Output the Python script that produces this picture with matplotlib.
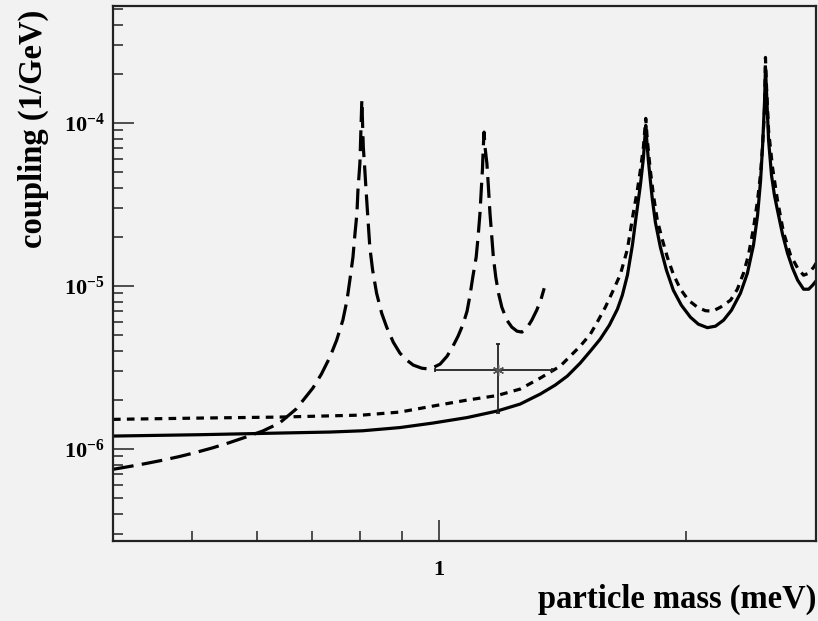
import matplotlib
matplotlib.use("Agg")
import matplotlib.pyplot as plt
from matplotlib.ticker import FixedLocator, NullFormatter

# mass (meV) / coupling (1/GeV)
mass_solid = [0.400, 0.510, 0.639, 0.736, 0.807, 0.896, 0.983, 1.082, 1.177, 1.256,
              1.329, 1.386, 1.434, 1.487, 1.530, 1.573, 1.614, 1.651, 1.674, 1.698,
              1.722, 1.741, 1.761, 1.776, 1.786, 1.788,
              1.793, 1.801, 1.811, 1.822, 1.837, 1.863, 1.895, 1.932, 1.976, 2.027,
              2.073, 2.126, 2.175, 2.225, 2.275, 2.333, 2.379, 2.420, 2.448, 2.469,
              2.483, 2.497, 2.503,
              2.510, 2.525, 2.546, 2.567, 2.589, 2.626, 2.663, 2.701, 2.740, 2.786,
              2.826, 2.858, 2.890]
coup_solid = [1.201e-6, 1.224e-6, 1.253e-6, 1.271e-6, 1.294e-6, 1.354e-6, 1.443e-6, 1.559e-6, 1.709e-6, 1.886e-6,
              2.172e-6, 2.465e-6, 2.799e-6, 3.363e-6, 3.982e-6, 4.718e-6, 5.744e-6, 7.201e-6, 8.772e-6, 1.163e-5,
              1.775e-5, 2.710e-5, 4.137e-5, 6.053e-5, 8.983e-5, 9.64e-5,
              7.80e-5, 5.886e-5, 4.44e-5, 3.348e-5, 2.455e-5, 1.726e-5, 1.248e-5, 9.41e-6, 7.617e-6, 6.43e-6,
              5.826e-6, 5.546e-6, 5.665e-6, 6.166e-6, 7.098e-6, 9.023e-6, 1.196e-5, 1.775e-5, 2.71e-5, 4.44e-5,
              7.27e-5, 1.372e-4, 2.184e-4,
              1.579e-4, 7.80e-5, 4.764e-5, 3.593e-5, 2.908e-5, 2.073e-5, 1.586e-5, 1.284e-5, 1.084e-5, 9.546e-6,
              9.546e-6, 1.01e-5, 1.084e-5]

mass_short = [0.400, 0.510, 0.639, 0.807, 0.896, 0.983, 1.082, 1.177, 1.256, 1.329,
              1.406, 1.487, 1.530, 1.560, 1.596, 1.632, 1.665, 1.698, 1.727, 1.746,
              1.761, 1.776, 1.788,
              1.796, 1.811, 1.827, 1.847, 1.874, 1.900, 1.932, 1.971, 2.016, 2.067,
              2.114, 2.157, 2.206, 2.269, 2.313, 2.353, 2.386, 2.420, 2.448, 2.469,
              2.483, 2.497, 2.503,
              2.510, 2.525, 2.553, 2.589, 2.633, 2.686, 2.740, 2.786, 2.826, 2.866, 2.890]
coup_short = [1.52e-6, 1.548e-6, 1.570e-6, 1.615e-6, 1.685e-6, 1.834e-6, 1.995e-6, 2.127e-6, 2.331e-6, 2.722e-6,
              3.224e-6, 4.272e-6, 5.06e-6, 5.993e-6, 7.408e-6, 9.41e-6, 1.179e-5, 1.678e-5, 2.827e-5, 3.855e-5,
              5.111e-5, 7.07e-5, 1.064e-4,
              7.80e-5, 5.111e-5, 3.593e-5, 2.525e-5, 1.905e-5, 1.498e-5, 1.179e-5, 9.546e-6, 8.174e-6, 7.408e-6,
              7.048e-6, 6.999e-6, 7.408e-6, 8.174e-6, 9.546e-6, 1.196e-5, 1.542e-5, 2.256e-5, 3.348e-5, 4.898e-5,
              7.27e-5, 1.243e-4, 2.515e-4,
              1.694e-4, 8.983e-5, 5.333e-5, 3.348e-5, 2.132e-5, 1.542e-5, 1.284e-5, 1.163e-5, 1.196e-5, 1.302e-5, 1.397e-5]

mass_long = [0.400, 0.4186, 0.4387, 0.4599, 0.4819, 0.5050, 0.5293, 0.5547, 0.5812, 0.6092,
             0.6387, 0.6692, 0.7014, 0.7185, 0.7359, 0.750, 0.7632, 0.7721, 0.7783, 0.7851,
             0.7897, 0.7940, 0.7962, 0.8006, 0.8029, 0.805,
             0.8083, 0.8114, 0.8142, 0.8187, 0.8233, 0.8298, 0.8391, 0.8511, 0.8632, 0.8793,
             0.8960, 0.9131, 0.9302, 0.9526, 0.975, 1.003, 1.023, 1.040, 1.055, 1.070,
             1.082, 1.091, 1.100, 1.110, 1.116, 1.122, 1.126, 1.130, 1.132, 1.135,
             1.138, 1.144, 1.149, 1.154, 1.160, 1.165, 1.173, 1.182, 1.193, 1.210,
             1.227, 1.245, 1.262, 1.280, 1.298, 1.316, 1.331, 1.344]
coup_long = [7.51e-7, 7.81e-7, 8.15e-7, 8.54e-7, 8.99e-7, 9.53e-7, 1.017e-6, 1.094e-6, 1.184e-6, 1.289e-6,
             1.443e-6, 1.758e-6, 2.363e-6, 2.88e-6, 3.66e-6, 4.65e-6, 6.17e-6, 8.17e-6, 1.084e-5, 1.498e-5,
             2.10e-5, 2.79e-5, 3.85e-5, 5.64e-5, 8.99e-5, 1.38e-4,
             7.10e-5, 5.35e-5, 4.02e-5, 2.63e-5, 1.726e-5, 1.248e-5, 9.02e-6, 6.81e-6, 5.59e-6, 4.52e-6,
             3.87e-6, 3.51e-6, 3.27e-6, 3.13e-6, 3.09e-6, 3.315e-6, 3.71e-6, 4.272e-6, 4.92e-6, 5.826e-6,
             6.999e-6, 8.772e-6, 1.147e-5, 1.498e-5, 1.99e-5, 2.79e-5, 3.855e-5, 5.26e-5, 6.79e-5, 8.77e-5,
             7.10e-5, 5.64e-5, 4.02e-5, 2.79e-5, 1.99e-5, 1.50e-5, 1.13e-5, 9.02e-6, 7.41e-6, 6.17e-6,
             5.59e-6, 5.28e-6, 5.21e-6, 5.51e-6, 6.17e-6, 7.10e-6, 8.17e-6, 9.68e-6]

# measured point with errors
pt_mass, pt_mass_lo, pt_mass_hi = 1.181, 0.989, 1.374
pt_coup, pt_coup_lo, pt_coup_hi = 3.05e-6, 1.66e-6, 4.40e-6

y_major = [1e-6, 1e-5, 1e-4]
y_labels = [r"$10^{-6}$", r"$10^{-5}$", r"$10^{-4}$"]
x_major = [1.0]
x_labels = ["1"]

bg = "#f2f2f2"
plt.rcParams["font.family"] = ["Liberation Serif", "DejaVu Serif"]
plt.rcParams["font.weight"] = "bold"
plt.rcParams["mathtext.fontset"] = "custom"
plt.rcParams["mathtext.rm"] = "Liberation Serif:bold"
plt.rcParams["mathtext.bf"] = "Liberation Serif:bold"
plt.rcParams["mathtext.it"] = "Liberation Serif:bold"
plt.rcParams["lines.scale_dashes"] = False

W, H = 818, 621
fig = plt.figure(figsize=(W / 100, H / 100), dpi=100, facecolor=bg)
ax = fig.add_axes([113 / W, (H - 541) / H, (816 - 113) / W, (541 - 6) / H])
ax.set_facecolor(bg)
ax.set_xscale("log")
ax.set_yscale("log")
ax.set_xlim(0.4, 2.885)
ax.set_ylim(2.73e-7, 5.2e-4)

lw = 2.3
ax.plot(mass_solid, coup_solid, color="black", lw=lw, solid_joinstyle="round")
ax.plot(mass_short, coup_short, color="black", lw=lw, dashes=(5.5, 4.5))
ax.plot(mass_long, coup_long, color="black", lw=lw, dashes=(15, 6))

ax.errorbar([pt_mass], [pt_coup],
            xerr=[[pt_mass - pt_mass_lo], [pt_mass_hi - pt_mass]],
            yerr=[[pt_coup - pt_coup_lo], [pt_coup_hi - pt_coup]],
            fmt="none", ecolor="#222222", elinewidth=1.3, capsize=1.5, capthick=1.3)
ax.plot([pt_mass], [pt_coup], marker=(6, 2, 0), ms=8, mec="#555555", mew=1.0,
        ls="none")

# ticks, ROOT style: inward, left and bottom only
ax.yaxis.set_major_locator(FixedLocator(y_major))
ax.set_yticklabels(y_labels)
y_minor = [m * 10.0 ** e for e in range(-7, -3) for m in range(2, 10)]
ax.yaxis.set_minor_locator(FixedLocator(y_minor))
ax.yaxis.set_minor_formatter(NullFormatter())

ax.xaxis.set_major_locator(FixedLocator(x_major))
ax.set_xticklabels(x_labels)
ax.xaxis.set_minor_locator(FixedLocator([0.5, 0.6, 0.7, 0.8, 0.9, 2.0]))
ax.xaxis.set_minor_formatter(NullFormatter())

ax.tick_params(which="both", direction="in", top=False, right=False,
               color="#333333", width=1.2, labelsize=16)
ax.tick_params(which="major", length=15)
ax.tick_params(which="minor", length=7.5)
ax.tick_params(axis="y", which="major", pad=6)
ax.tick_params(axis="x", which="major", pad=14)

for s in ax.spines.values():
    s.set_linewidth(1.6)
    s.set_color("#222222")

fig.text(816 / W, 1 - 608 / H, "particle mass (meV)", ha="right", va="baseline",
         fontsize=23.5, fontweight="bold")
fig.text(33 / W, 1 - 10 / H, "coupling (1/GeV)", ha="center", va="top",
         rotation=90, fontsize=23.5, fontweight="bold")

fig.savefig("out.png", dpi=100, facecolor=bg)
